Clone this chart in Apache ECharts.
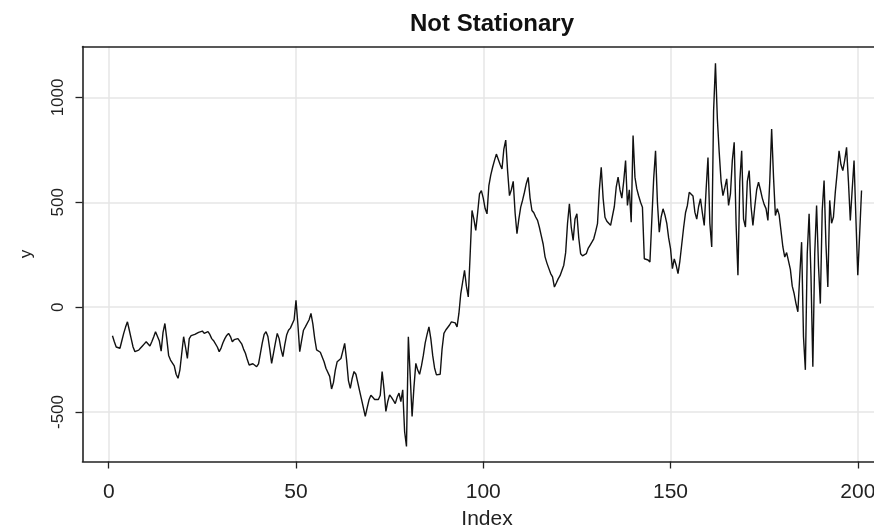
<!DOCTYPE html>
<html>
<head>
<meta charset="utf-8">
<script src="https://cdn.jsdelivr.net/npm/echarts@6/dist/echarts.min.js"></script>
<style>html,body{margin:0;padding:0;background:#fff;overflow:hidden;}#c{width:874px;height:531px;}</style>
</head>
<body>
<div id="c"></div>
<script>
// Series values, index 1 to 201 in steps of 0.5
var yValues = [
-136,-165,-190,-196,-196,-160,-125,-95,-70,-110,
-150,-190,-212,-208,-205,-195,-185,-175,-165,-157,
-185,-165,-142,-117,-109,-160,-210,-120,-78,-150,
-230,-252,-260,-280,-320,-339,-300,-220,-141,-190,
-244,-150,-136,-136,-130,-125,-120,-118,-114,-125,
-120,-117,-130,-150,-160,-165,-190,-212,-195,-170,
-150,-135,-125,-140,-165,-155,-149,-150,-155,-175,
-200,-220,-250,-276,-284,-270,-265,-284,-270,-220,
-170,-130,-117,-140,-200,-268,-276,-170,-125,-150,
-200,-236,-180,-133,-110,-100,-94,-60,
33,-80,-212,-160,-110,-94,-85,-60,-30,-80,
-150,-204,-210,-215,-220,-260,-291,-300,-330,-390,
-360,-300,-260,-255,-245,-210,-173,-250,-350,-387,
-340,-307,-320,-360,-400,-440,-480,-521,-480,-442,
-420,-430,-440,-442,-440,-420,-307,-390,-497,-450,
-418,-430,-445,-460,-430,-410,-450,-394,-593,-664,
-141,-330,-521,-380,-268,-300,-320,-280,-230,-170,
-130,-94,-150,-230,-290,-323,-323,-320,-200,-125,
-109,-100,-85,-70,-62,-75,-94,-30,65,120,
176,100,49,250,461,420,366,450,540,556,
520,470,445,580,630,667,700,730,738,680,
659,754,797,650,532,560,600,450,350,420,
477,510,548,590,619,520,461,450,430,414,
380,340,300,240,210,185,160,144,96,115,
135,150,175,200,260,400,493,380,318,420,
445,330,255,245,239,255,280,295,310,326,
360,398,560,667,520,429,410,400,390,382,
480,572,620,560,520,600,699,485,560,405,
818,620,564,530,500,477,231,240,225,215,
208,612,746,500,358,430,469,440,400,330,
279,184,230,200,160,220,300,380,450,485,
548,545,530,453,420,480,517,450,390,560,
714,400,287,936,1163,900,738,600,532,570,
612,485,540,700,786,400,152,600,746,420,
382,600,651,480,390,480,560,596,560,520,
490,470,414,600,849,620,437,470,440,437,
287,239,260,255,180,100,65,17,-22,150,
310,-141,-299,255,445,150,-284,255,485,200,
17,461,604,300,96,509,400,430,550,643,
746,680,651,700,762,600,414,560,699,420,
152,350,556
];
var indexStart = 1;
var indexStep = 0.5;
var xTicks = [0, 50, 100, 150, 200];
var yTicks = [-500, 0, 500, 1000];
var titleText = 'Not Stationary';
var xName = 'Index';
var yName = 'y';

var seriesData = yValues.map(function (v, k) { return [indexStart + k * indexStep, v]; });

var chart = echarts.init(document.getElementById('c'), null, { renderer: 'canvas' });
var font = '"Liberation Sans", Arial, sans-serif';
var boxLine = { show: true, onZero: false, lineStyle: { color: '#222', width: 1.6 } };
var X_MIN = -7, X_MAX = 209, Y_MIN = -736, Y_MAX = 1243;
chart.setOption({
  animation: false,
  backgroundColor: '#ffffff',
  title: {
    text: titleText, left: 487, top: 7, textAlign: 'center',
    textStyle: { fontFamily: font, fontWeight: 'bold', fontSize: 24, color: '#111' }
  },
  grid: {
    left: 82.5, top: 46.5, width: 809, height: 415, show: false,
    containLabel: false, outerBoundsMode: 'none'
  },
  xAxis: [{
    type: 'value', position: 'bottom', min: X_MIN, max: X_MAX,
    name: xName, nameLocation: 'middle', nameGap: 47,
    nameTextStyle: { fontFamily: font, fontSize: 21, color: '#222', align: 'center' },
    axisLine: boxLine,
    axisTick: { show: true, length: 7, inside: false, customValues: xTicks, lineStyle: { color: '#222', width: 1.3 } },
    axisLabel: { customValues: xTicks, margin: 20, fontFamily: font, fontSize: 21, color: '#222', showMaxLabel: true, showMinLabel: true },
    splitLine: { show: true, lineStyle: { color: '#e6e6e6', width: 1.5 } }
  }, {
    type: 'value', position: 'top', min: X_MIN, max: X_MAX,
    axisLine: boxLine, axisTick: { show: false }, axisLabel: { show: false }, splitLine: { show: false }
  }],
  yAxis: {
    type: 'value', min: Y_MIN, max: Y_MAX,
    name: yName, nameLocation: 'middle', nameGap: 48, nameRotate: 90,
    nameTextStyle: { fontFamily: font, fontSize: 17, color: '#222' },
    axisLine: boxLine,
    axisTick: { show: true, length: 7, inside: false, customValues: yTicks, lineStyle: { color: '#222', width: 1.3 } },
    axisLabel: {
      customValues: yTicks, rotate: 90, margin: 16, fontFamily: font, fontSize: 17, color: '#222',
      formatter: function (v) { return String(v); }
    },
    splitLine: { show: true, lineStyle: { color: '#e6e6e6', width: 1.5 } }
  },
  series: [{
    type: 'line', data: seriesData, showSymbol: false, symbol: 'none', xAxisIndex: 0,
    lineStyle: { color: '#111', width: 1.4 }, smooth: false, z: 3
  }]
});
</script>
</body>
</html>
